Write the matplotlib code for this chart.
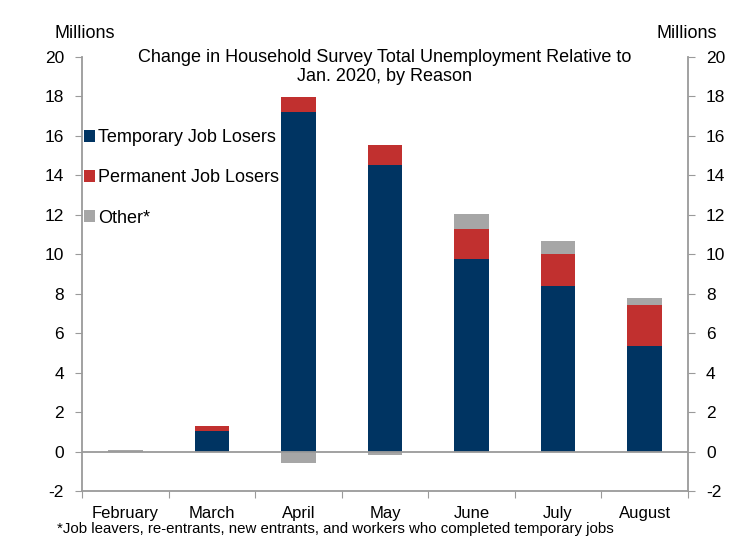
import matplotlib.pyplot as plt
import numpy as np

plt.rcParams['font.family'] = ['Liberation Sans', 'DejaVu Sans']
plt.rcParams['axes.unicode_minus'] = False

months = ["February", "March", "April", "May", "June", "July", "August"]
temporary = [0.0, 1.05, 17.2, 14.5, 9.75, 8.4, 5.35]
permanent = [0.0, 0.25, 0.75, 1.05, 1.55, 1.6, 2.1]
other = [0.1, 0.0, -0.58, -0.15, 0.72, 0.65, 0.35]

navy = '#003462'
red = '#C1302F'
grey = '#A6A6A6'
axcol = '#9A9A9A'

fig = plt.figure(figsize=(7.42, 5.46), dpi=100)
ax = fig.add_axes([0.1105, 0.1007, 0.8167, 0.795])

x = np.arange(len(months))
temporary = np.array(temporary)
permanent = np.array(permanent)
other = np.array(other)
w = 0.4

ax.bar(x, temporary, w, color=navy, label='Temporary Job Losers', zorder=2)
ax.bar(x, permanent, w, bottom=temporary, color=red, label='Permanent Job Losers', zorder=2)
other_bottom = np.where(other > 0, temporary + permanent, 0)
ax.bar(x, other, w, bottom=other_bottom, color=grey, label='Other*', zorder=2)

ax.axhline(0, color=axcol, lw=1.3, zorder=3)
ax.set_xlim(-0.5, len(months) - 0.5)
ax.set_ylim(-2, 20)
ax.set_yticks(range(-2, 21, 2))

# category boundary ticks on the bottom axis
ax.set_xticks(np.arange(-0.5, len(months), 1.0))
ax.set_xticklabels([])
ax.set_xticks(x, minor=True)
ax.set_xticklabels(months, minor=True)
ax.tick_params(axis='x', which='minor', length=0, pad=11, labelsize=12)
ax.tick_params(axis='x', which='major', length=5, color=axcol, direction='out')

ax.tick_params(axis='y', which='both', left=True, right=True, labelleft=True,
               labelright=True, length=5, color=axcol, labelsize=12.5, pad=8)

for s in ['left', 'right', 'bottom']:
    ax.spines[s].set_color(axcol)
    ax.spines[s].set_linewidth(1.3)
ax.spines['top'].set_visible(False)

ax.text(0.5, 1.018, 'Change in Household Survey Total Unemployment Relative to\nJan. 2020, by Reason',
        transform=ax.transAxes, ha='center', va='top', fontsize=13, linespacing=1.15)

fig.text(0.074, 0.938, 'Millions', fontsize=13, ha='left', va='center')
fig.text(0.885, 0.938, 'Millions', fontsize=13, ha='left', va='center')

leg = ax.legend(loc='upper left', bbox_to_anchor=(-0.008, 0.85), frameon=False,
                handlelength=0.6, handleheight=0.6, handletextpad=0.15,
                labelspacing=1.28, fontsize=13, borderaxespad=0)

fig.text(0.077, 0.031, '*Job leavers, re-entrants, new entrants, and workers who completed temporary jobs',
         fontsize=10.8, ha='left', va='center')

fig.savefig('out.png', dpi=100)
